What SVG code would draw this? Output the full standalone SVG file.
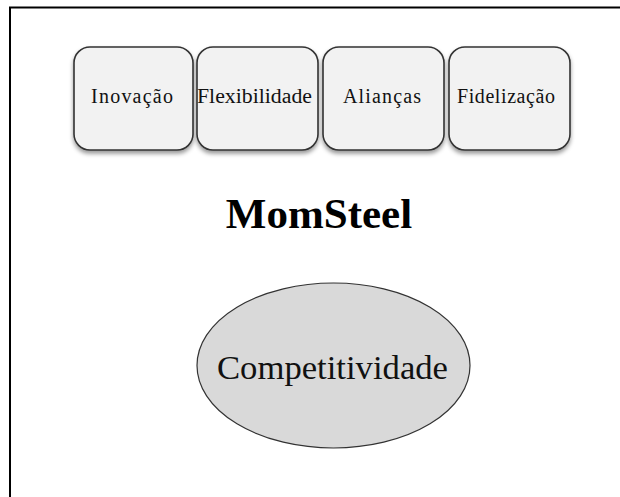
<svg xmlns="http://www.w3.org/2000/svg" width="620" height="497" viewBox="0 0 620 497">
<style>
.box{fill:#f2f2f2;stroke:#333;stroke-width:1.6;filter:url(#sh)}
.lbl{font-family:"Liberation Serif","Times New Roman",serif;font-size:20px;fill:#111;text-anchor:middle}
.title{font-family:"Liberation Serif","Times New Roman",serif;font-size:43px;font-weight:bold;fill:#000;text-anchor:middle}
.big{font-family:"Liberation Serif","Times New Roman",serif;font-size:34px;fill:#111;text-anchor:middle}
</style>
<defs>
<filter id="sh" x="-10%" y="-10%" width="120%" height="130%">
<feDropShadow dx="0" dy="3" stdDeviation="2" flood-color="#000" flood-opacity="0.4"/>
</filter>
</defs>
<rect width="620" height="497" fill="#fff"/>
<path d="M10,497 V7.5 H620" fill="none" stroke="#000" stroke-width="2"/>
<g id="inovacao">
<rect class="box" x="74" y="47" width="119" height="103" rx="16"/>
<text class="lbl" x="132" y="103" textLength="82" lengthAdjust="spacing">Inovação</text>
</g>
<g id="flexibilidade">
<rect class="box" x="197" y="47" width="121" height="103" rx="16"/>
<text class="lbl" x="254.5" y="103" textLength="115" lengthAdjust="spacingAndGlyphs">Flexibilidade</text>
</g>
<g id="aliancas">
<rect class="box" x="323" y="47" width="121" height="103" rx="16"/>
<text class="lbl" x="382" y="103" textLength="78" lengthAdjust="spacing">Alianças</text>
</g>
<g id="fidelizacao">
<rect class="box" x="449" y="47" width="121" height="103" rx="16"/>
<text class="lbl" x="506" y="103" textLength="98" lengthAdjust="spacing">Fidelização</text>
</g>
<g id="momsteel">
<text class="title" x="319" y="228">MomSteel</text>
</g>
<g id="competitividade">
<ellipse cx="333.5" cy="365.5" rx="136.5" ry="82.5" fill="#d9d9d9" stroke="#333" stroke-width="1.2"/>
<text class="big" x="332.5" y="379" textLength="231" lengthAdjust="spacingAndGlyphs">Competitividade</text>
</g>
<g id="connectors"></g>
</svg>
